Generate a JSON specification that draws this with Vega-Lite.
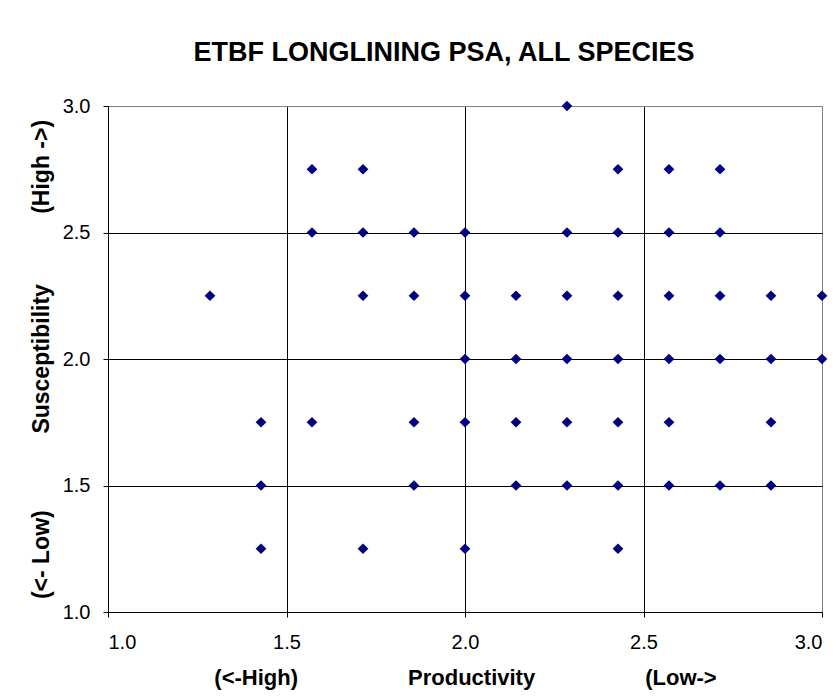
{
  "$schema": "https://vega.github.io/schema/vega-lite/v6.json",
  "autosize": "none",
  "padding": {"left": 108, "top": 106, "right": 18, "bottom": 88},
  "width": 714,
  "height": 506,
  "background": "white",
  "config": {
    "font": "Liberation Sans",
    "view": {"stroke": "#808080", "strokeWidth": 1},
    "axis": {
      "domainColor": "black",
      "tickColor": "black",
      "tickSize": 5,
      "labelColor": "black",
      "titleColor": "black",
      "labelFont": "Liberation Sans",
      "titleFont": "Liberation Sans",
      "labelFontSize": 20,
      "titleFontSize": 22,
      "titleFontWeight": "bold",
      "grid": true,
      "gridOpacity": 1,
      "gridWidth": 1
    }
  },
  "title": {
    "text": "ETBF LONGLINING PSA, ALL SPECIES",
    "font": "Liberation Sans",
    "fontSize": 27,
    "fontWeight": "bold",
    "color": "black",
    "anchor": "middle",
    "frame": "group",
    "dx": -21,
    "offset": 29
  },
  "data": {
    "values": [
      {"p": 2.2857, "s": 3.0},
      {"p": 1.5714, "s": 2.75},
      {"p": 1.7143, "s": 2.75},
      {"p": 2.4286, "s": 2.75},
      {"p": 2.5714, "s": 2.75},
      {"p": 2.7143, "s": 2.75},
      {"p": 1.5714, "s": 2.5},
      {"p": 1.7143, "s": 2.5},
      {"p": 1.8571, "s": 2.5},
      {"p": 2.0, "s": 2.5},
      {"p": 2.2857, "s": 2.5},
      {"p": 2.4286, "s": 2.5},
      {"p": 2.5714, "s": 2.5},
      {"p": 2.7143, "s": 2.5},
      {"p": 1.2857, "s": 2.25},
      {"p": 1.7143, "s": 2.25},
      {"p": 1.8571, "s": 2.25},
      {"p": 2.0, "s": 2.25},
      {"p": 2.1429, "s": 2.25},
      {"p": 2.2857, "s": 2.25},
      {"p": 2.4286, "s": 2.25},
      {"p": 2.5714, "s": 2.25},
      {"p": 2.7143, "s": 2.25},
      {"p": 2.8571, "s": 2.25},
      {"p": 3.0, "s": 2.25},
      {"p": 2.0, "s": 2.0},
      {"p": 2.1429, "s": 2.0},
      {"p": 2.2857, "s": 2.0},
      {"p": 2.4286, "s": 2.0},
      {"p": 2.5714, "s": 2.0},
      {"p": 2.7143, "s": 2.0},
      {"p": 2.8571, "s": 2.0},
      {"p": 3.0, "s": 2.0},
      {"p": 1.4286, "s": 1.75},
      {"p": 1.5714, "s": 1.75},
      {"p": 1.8571, "s": 1.75},
      {"p": 2.0, "s": 1.75},
      {"p": 2.1429, "s": 1.75},
      {"p": 2.2857, "s": 1.75},
      {"p": 2.4286, "s": 1.75},
      {"p": 2.5714, "s": 1.75},
      {"p": 2.8571, "s": 1.75},
      {"p": 1.4286, "s": 1.5},
      {"p": 1.8571, "s": 1.5},
      {"p": 2.1429, "s": 1.5},
      {"p": 2.2857, "s": 1.5},
      {"p": 2.4286, "s": 1.5},
      {"p": 2.5714, "s": 1.5},
      {"p": 2.7143, "s": 1.5},
      {"p": 2.8571, "s": 1.5},
      {"p": 1.4286, "s": 1.25},
      {"p": 1.7143, "s": 1.25},
      {"p": 2.0, "s": 1.25},
      {"p": 2.4286, "s": 1.25}
    ]
  },
  "mark": {"type": "point", "shape": "diamond", "filled": true, "color": "#000080", "size": 115, "opacity": 1, "clip": false},
  "encoding": {
    "x": {
      "field": "p",
      "type": "quantitative",
      "scale": {"domain": [1, 3], "nice": false, "zero": false},
      "axis": {
        "values": [1, 1.5, 2, 2.5, 3],
        "format": ".1f",
        "labelPadding": 15,
        "titlePadding": 15,
        "gridColor": {"condition": {"test": "datum.value === 3", "value": "#808080"}, "value": "black"},
        "title": "(<-High)\u00a0\u00a0\u00a0\u00a0\u00a0\u00a0\u00a0\u00a0\u00a0\u00a0\u00a0\u00a0\u00a0\u00a0\u00a0\u00a0\u00a0\u00a0Productivity\u00a0\u00a0\u00a0\u00a0\u00a0\u00a0\u00a0\u00a0\u00a0\u00a0\u00a0\u00a0\u00a0\u00a0\u00a0\u00a0\u00a0\u00a0(Low->"
      }
    },
    "y": {
      "field": "s",
      "type": "quantitative",
      "scale": {"domain": [1, 3], "nice": false, "zero": false},
      "axis": {
        "values": [1, 1.5, 2, 2.5, 3],
        "format": ".1f",
        "labelPadding": 13,
        "titlePadding": 9,
        "titleFontSize": 23,
        "gridColor": {"condition": {"test": "datum.value === 3", "value": "#808080"}, "value": "black"},
        "title": "(<- Low)\u00a0\u00a0\u00a0\u00a0\u00a0\u00a0\u00a0\u00a0\u00a0\u00a0\u00a0\u00a0Susceptibility\u00a0\u00a0\u00a0\u00a0\u00a0\u00a0\u00a0\u00a0\u00a0\u00a0\u00a0(High ->)"
      }
    }
  }
}
